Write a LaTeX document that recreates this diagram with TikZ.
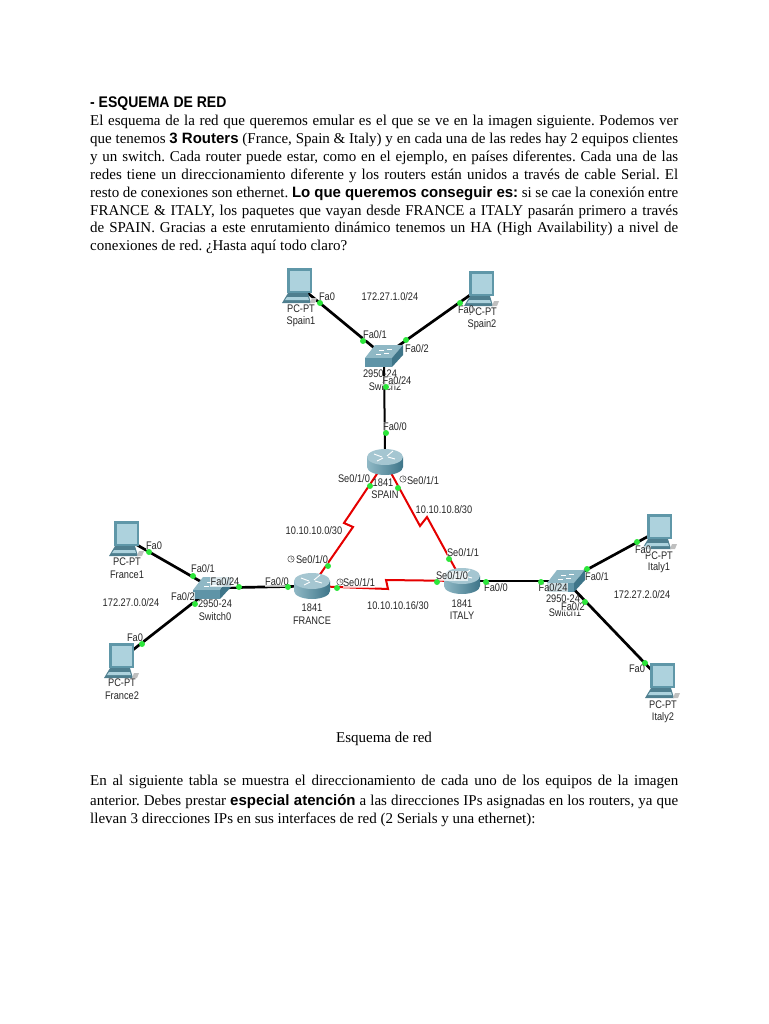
\documentclass[tikz,border=0pt]{standalone}
\usepackage{fontspec}
\setmainfont{Liberation Serif}
\setsansfont{Liberation Sans}
\newfontfamily\titlefont[FakeStretch=0.91]{Liberation Sans}
\newfontfamily\netfont[FakeStretch=0.84]{Liberation Sans}
\usepackage{tikz}
\frenchspacing

\definecolor{screenblue}{HTML}{ADD2DD}
\definecolor{framebluegray}{HTML}{5F97A8}
\definecolor{basegray}{HTML}{4F7F8F}
\definecolor{porttop}{HTML}{8FB8C5}
\definecolor{portfront}{HTML}{5F94A7}
\definecolor{portside}{HTML}{3E7589}
\definecolor{portgreen}{HTML}{2CE63A}

\newcommand{\fullline}[1]{\makebox[588pt][s]{#1}}
\newcommand{\strongword}[1]{{\sffamily\bfseries #1}}

\tikzset{
	device/.style={inner sep=0pt, minimum size=0pt},
	port/.style={circle, fill=portgreen, inner sep=0pt, minimum size=6pt},
	etherlink/.style={line width=2pt, black},
	pclink/.style={line width=2.7pt, black},
	seriallink/.style={line width=2pt, red!90!black},
	netlabel/.style={font=\netfont\fontsize{11}{12}\selectfont, text=black!85, inner sep=0.5pt},
	portlabel/.style={netlabel, fill=white, fill opacity=.7, text opacity=1},
	textline/.style={anchor=base west, inner sep=0pt, font=\fontsize{15}{17}\selectfont},
	pcicon/.pic={
		\fill[basegray] (-16,18) -- (13,18) -- (10,8) -- (-10,8) -- cycle;
		\fill[screenblue] (-13,15) -- (11,15) -- (10,12) -- (-11,12) -- cycle;
		\fill[framebluegray] (-11,-17) rectangle (14,8);
		\fill[screenblue] (-8,-14) rectangle (12,6);
		\fill[black!25] (14,13) -- (19,13) -- (17,18) -- (12,18) -- cycle;
	},
	switchicon/.pic={
		\fill[porttop] (-9,-11) -- (19,-11) -- (8,2) -- (-19,2) -- cycle;
		\fill[portfront] (-19,2) -- (8,2) -- (8,11) -- (-19,11) -- cycle;
		\fill[portside] (8,2) -- (19,-11) -- (19,-1) -- (8,11) -- cycle;
		\draw[white, line width=.6pt] (-5,-6) -- (0,-6) (3,-7) -- (8,-7) (-8,-2) -- (-3,-2) (0,-3) -- (5,-3);
	},
	routericon/.pic={
		\shade[left color=porttop, right color=portside] (-18,-5) -- (18,-5) -- (18,5) arc[start angle=0, end angle=180, x radius=18, y radius=8] -- cycle;
		\fill[porttop!80!white] (0,-5) ellipse[x radius=18, y radius=8];
		\draw[white, line width=.9pt] (-11,-8) -- (-3,-5) (3,-5) -- (10,-3) (-8,-1) -- (-2,-4) (2,-6) -- (8,-11);
	},
	clockicon/.pic={
		\draw[black!75, line width=.5pt] (0,0) circle[radius=3.2] (0,-2.2) -- (0,0) -- (2,0);
	}
}

\begin{document}
\begin{tikzpicture}[x=1pt, y=-1pt]
	\useasboundingbox (0,0) rectangle (768,1024);

	% Texto superior
	\node[textline, font=\titlefont\bfseries\fontsize{15.4}{17}\selectfont] (title) at (90,108) {- ESQUEMA DE RED};
	\node[textline] (line1) at (90,126) {\fullline{El esquema de la red que queremos emular es el que se ve en la imagen siguiente. Podemos ver}};
	\node[textline] (line2) at (90,144) {\fullline{que tenemos \strongword{3 Routers} (France, Spain \& Italy) y en cada una de las redes hay 2 equipos clientes}};
	\node[textline] (line3) at (90,162) {\fullline{y un switch. Cada router puede estar, como en el ejemplo, en países diferentes. Cada una de las}};
	\node[textline] (line4) at (90,180) {\fullline{redes tiene un direccionamiento diferente y los routers están unidos a través de cable Serial. El}};
	\node[textline] (line5) at (90,198) {\fullline{resto de conexiones son ethernet. \strongword{Lo que queremos conseguir es:} si se cae la conexión entre}};
	\node[textline] (line6) at (90,216) {\fullline{FRANCE \& ITALY, los paquetes que vayan desde FRANCE a ITALY pasarán primero a través}};
	\node[textline] (line7) at (90,233) {\fullline{de SPAIN. Gracias a este enrutamiento dinámico tenemos un HA (High Availability) a nivel de}};
	\node[textline] (line8) at (90,251) {conexiones de red. ¿Hasta aquí todo claro?};

	% Equipos
	\node[device] (spain1) at (298,285) {};
	\node[device] (spain2) at (480,288) {};
	\node[device] (switch2) at (384,356) {};
	\node[device] (spain) at (385,462) {};
	\node[device] (france1) at (125,538) {};
	\node[device] (france2) at (120,660) {};
	\node[device] (switch0) at (212,588) {};
	\node[device] (france) at (312,586) {};
	\node[device] (italy) at (462,581) {};
	\node[device] (switch1) at (566,581) {};
	\node[device] (italy1) at (658,531) {};
	\node[device] (italy2) at (661,680) {};

	% Puntos de quiebre de los enlaces seriales
	\coordinate (bendFS1) at (353,527);
	\coordinate (bendFS2) at (344,523);
	\coordinate (bendSI1) at (420,526);
	\coordinate (bendSI2) at (427,517);
	\coordinate (bendFI1) at (388,589);
	\coordinate (bendFI2) at (386,580);

	% Enlaces
	\draw[pclink] (spain1) -- (switch2);
	\draw[pclink] (spain2) -- (switch2);
	\draw[etherlink] (switch2) -- (spain);
	\draw[pclink] (france1) -- (switch0);
	\draw[pclink] (france2) -- (switch0);
	\draw[pclink] (switch0) -- (france);
	\draw[etherlink] (italy) -- (switch1);
	\draw[pclink] (switch1) -- (italy1);
	\draw[pclink] (switch1) -- (italy2);
	\draw[seriallink] (france) -- (bendFS1) -- (bendFS2) -- (spain);
	\draw[seriallink] (spain) -- (bendSI1) -- (bendSI2) -- (italy);
	\draw[seriallink] (france) -- (bendFI1) -- (bendFI2) -- (italy);

	% Iconos
	\foreach \pcname in {spain1, spain2, france1, france2, italy1, italy2}
		\pic at (\pcname) {pcicon};
	\foreach \swname in {switch0, switch1, switch2}
		\pic at (\swname) {switchicon};
	\foreach \rtname in {spain, france, italy}
		\pic at (\rtname) {routericon};

	% Nombres de equipos
	\node[netlabel] (spain1type) at (301,309) {PC-PT};
	\node[netlabel] (spain1name) at (301,322) {Spain1};
	\node[netlabel] (spain2type) at (483,312) {PC-PT};
	\node[netlabel] (spain2name) at (482,325) {Spain2};
	\node[netlabel] (switch2type) at (380,374) {2950-24};
	\node[netlabel] (switch2name) at (385,387) {Switch2};
	\node[netlabel] (spaintype) at (383,483) {1841};
	\node[netlabel] (spainname) at (385,495) {SPAIN};
	\node[netlabel] (france1type) at (127,562) {PC-PT};
	\node[netlabel] (france1name) at (127,575) {France1};
	\node[netlabel] (france2type) at (122,683) {PC-PT};
	\node[netlabel] (france2name) at (122,696) {France2};
	\node[netlabel] (switch0type) at (215,604) {2950-24};
	\node[netlabel] (switch0name) at (215,617) {Switch0};
	\node[netlabel] (francetype) at (312,608) {1841};
	\node[netlabel] (francename) at (312,621) {FRANCE};
	\node[netlabel] (italytype) at (462,604) {1841};
	\node[netlabel] (italyname) at (462,616) {ITALY};
	\node[netlabel] (switch1type) at (563,599) {2950-24};
	\node[netlabel] (switch1name) at (565,613) {Switch1};
	\node[netlabel] (italy1type) at (659,556) {PC-PT};
	\node[netlabel] (italy1name) at (659,568) {Italy1};
	\node[netlabel] (italy2type) at (663,705) {PC-PT};
	\node[netlabel] (italy2name) at (663,718) {Italy2};

	% Redes
	\node[netlabel] (netspain) at (390,297) {172.27.1.0/24};
	\node[netlabel] (netfrance) at (131,603) {172.27.0.0/24};
	\node[netlabel] (netitaly) at (642,595) {172.27.2.0/24};
	\node[netlabel] (netfs) at (314,531) {10.10.10.0/30};
	\node[netlabel] (netsi) at (444,510) {10.10.10.8/30};
	\node[netlabel] (netfi) at (398,606) {10.10.10.16/30};

	% Etiquetas de puertos
	\node[portlabel] (lblspain1) at (327,297) {Fa0};
	\node[portlabel] (lblspain2) at (466,310) {Fa0};
	\node[portlabel] (lblsw2a) at (375,335) {Fa0/1};
	\node[portlabel] (lblsw2b) at (417,349) {Fa0/2};
	\node[portlabel] (lblsw2c) at (397,381) {Fa0/24};
	\node[portlabel] (lblspainf) at (395,427) {Fa0/0};
	\node[portlabel] (lblspaina) at (354,479) {Se0/1/0};
	\node[portlabel] (lblspainb) at (423,481) {Se0/1/1};
	\node[portlabel] (lblfrance1) at (154,546) {Fa0};
	\node[portlabel] (lblfrance2) at (135,638) {Fa0};
	\node[portlabel] (lblsw0a) at (203,569) {Fa0/1};
	\node[portlabel] (lblsw0b) at (183,597) {Fa0/2};
	\node[portlabel] (lblsw0c) at (225,582) {Fa0/24};
	\node[portlabel] (lblfrancef) at (277,582) {Fa0/0};
	\node[portlabel] (lblfrancea) at (312,560) {Se0/1/0};
	\node[portlabel] (lblfranceb) at (359,583) {Se0/1/1};
	\node[portlabel] (lblitalyb) at (463,553) {Se0/1/1};
	\node[portlabel] (lblitalya) at (452,576) {Se0/1/0};
	\node[portlabel] (lblitalyf) at (496,588) {Fa0/0};
	\node[portlabel] (lblsw1c) at (553,588) {Fa0/24};
	\node[portlabel] (lblsw1b) at (573,607) {Fa0/2};
	\node[portlabel] (lblsw1a) at (597,577) {Fa0/1};
	\node[portlabel] (lblitaly1) at (643,550) {Fa0};
	\node[portlabel] (lblitaly2) at (637,669) {Fa0};

	% Relojes de los puertos seriales
	\pic at (403,479) {clockicon};
	\pic at (291,559) {clockicon};
	\pic at (340,582) {clockicon};

	% Puntos verdes
	\foreach \px/\py in {320/303, 460/303, 363/341, 406/340, 386/387, 386/433, 370/486, 398/488,
		149/552, 193/576, 195/604, 142/644, 239/587, 288/587, 328/566, 337/588,
		449/559, 437/582, 486/582, 541/582, 587/569, 585/602, 637/542, 645/663}
		\node[port] at (\px,\py) {};

	% Pie de figura y texto inferior
	\node[textline, anchor=base] (caption) at (384,742) {Esquema de red};
	\node[textline] (low1) at (90,785) {\fullline{En al siguiente tabla se muestra el direccionamiento de cada uno de los equipos de la imagen}};
	\node[textline] (low2) at (90,805) {\fullline{anterior. Debes prestar \strongword{especial atención} a las direcciones IPs asignadas en los routers, ya que}};
	\node[textline] (low3) at (90,823) {llevan 3 direcciones IPs en sus interfaces de red (2 Serials y una ethernet):};
\end{tikzpicture}
\end{document}
